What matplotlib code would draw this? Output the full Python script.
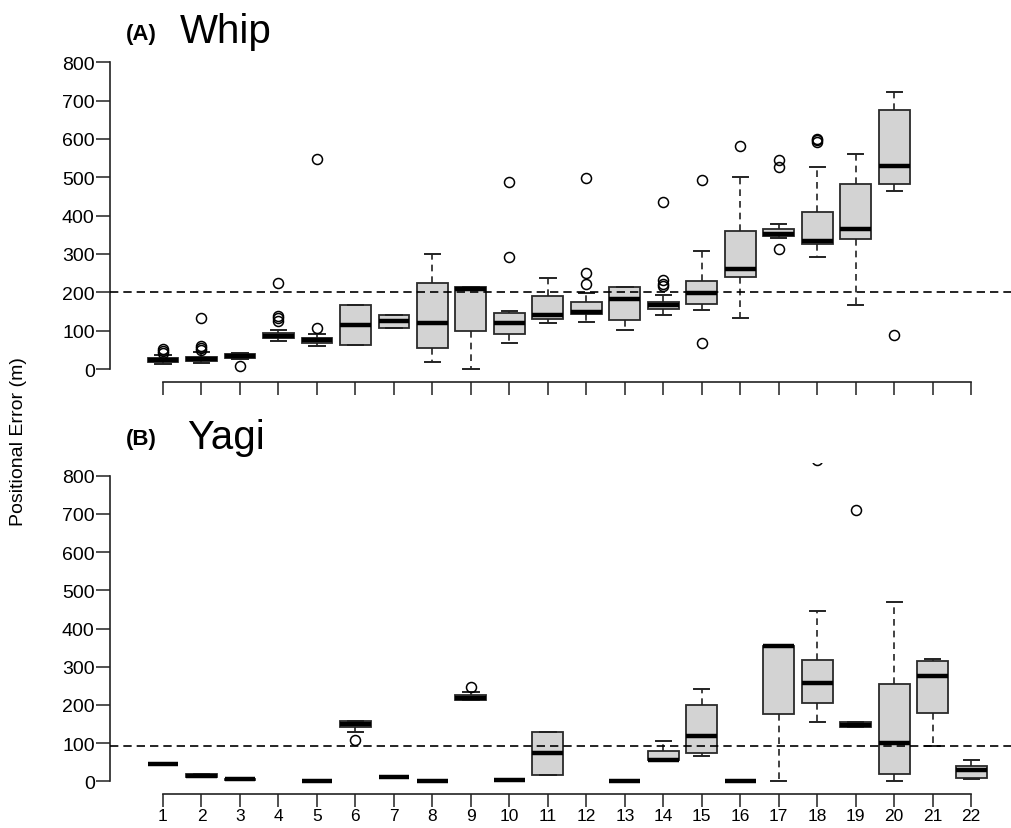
import matplotlib
matplotlib.use("Agg")
import matplotlib.pyplot as plt

plt.rcParams['font.family'] = ['Liberation Sans', 'DejaVu Sans']

# ---------------- Data: (A) Whip ----------------
whip_pos    = [1, 2, 3, 4, 5, 6, 7, 8, 9, 10, 11, 12, 13, 14, 15, 16, 17, 18, 19, 20]
whip_whislo = [12, 16, 27, 72, 60, 62, 108, 19, 0, 68, 119, 123, 102, 140, 153, 134, 342, 293, 166, 463]
whip_q1     = [19, 20, 28, 80, 68, 62, 108, 56, 100, 91, 130, 143, 128, 156, 169, 240, 346, 327, 339, 482]
whip_med    = [24, 26, 34, 87, 75, 116, 124, 121, 209, 119, 140, 149, 182, 166, 197, 262, 351, 333, 366, 530]
whip_q3     = [29, 31, 40, 95, 81, 167, 140, 224, 215, 145, 190, 175, 215, 176, 229, 361, 365, 409, 483, 675]
whip_whishi = [36, 45, 43, 103, 92, 167, 140, 299, 215, 152, 238, 197, 215, 192, 309, 502, 379, 528, 561, 723]
whip_fliers = [[42, 48, 53], [50, 55, 60, 133], [8], [125, 132, 138, 225], [107, 548],
               [], [], [], [], [293, 487], [], [221, 251, 498], [], [216, 222, 232, 435],
               [68, 492], [582], [313, 526, 544], [592, 597, 600], [], [88]]
whip_ref = 200

# ---------------- Data: (B) Yagi ----------------
yagi_pos    = [1, 2, 3, 5, 6, 7, 8, 9, 10, 11, 13, 14, 15, 16, 17, 18, 19, 20, 21, 22]
yagi_whislo = [46, 12, 4, 1, 128, 10, 1, 213, 3, 17, 1, 55, 65, 1, 0, 154, 141, 0, 93, 6]
yagi_q1     = [46, 12, 4, 1, 141, 10, 1, 213, 3, 17, 1, 55, 73, 1, 176, 206, 141, 18, 178, 8]
yagi_med    = [46, 15, 5, 1, 150, 10, 2, 217, 3, 73, 1, 56, 119, 1, 353, 257, 147, 101, 276, 30]
yagi_q3     = [46, 18, 6, 1, 158, 11, 2, 226, 3, 128, 1, 80, 199, 1, 355, 318, 154, 256, 314, 39]
yagi_whishi = [46, 18, 6, 1, 158, 11, 2, 233, 3, 128, 1, 106, 241, 1, 355, 447, 154, 469, 320, 55]
yagi_fliers = [[], [], [], [], [108], [], [], [246], [], [], [], [], [], [], [],
               [840], [709], [], [], []]
yagi_ref = 92

x_labels = [str(i) for i in range(1, 23)]
y_ticks = list(range(0, 801, 100))

W, H = 1012, 829
fig = plt.figure(figsize=(W / 100, H / 100), dpi=100)
ax1 = fig.add_axes([110 / W, 1 - 382.7 / H, 1 - 110 / W, 332.1 / H])
ax2 = fig.add_axes([110 / W, 1 - 794.9 / H, 1 - 110 / W, 330.8 / H])


def make_stats(pos, lo, q1, med, q3, hi, fl):
    return [dict(whislo=a, q1=b, med=c, q3=d, whishi=e, fliers=f)
            for a, b, c, d, e, f in zip(lo, q1, med, q3, hi, fl)]


def draw(ax, stats, pos, ref, show_labels):
    ax.bxp(stats, positions=pos, widths=0.8, patch_artist=True, showfliers=True,
           boxprops=dict(facecolor='#d3d3d3', edgecolor='#2a2a2a', linewidth=1.3),
           medianprops=dict(color='black', linewidth=3.2, solid_capstyle='butt'),
           whiskerprops=dict(color='#222222', linewidth=1.2, linestyle=(0, (4, 3))),
           capprops=dict(color='#222222', linewidth=1.4),
           flierprops=dict(marker='o', markerfacecolor='none', markeredgecolor='black',
                           markersize=7.2, markeredgewidth=1.1, linestyle='none'))
    ax.axhline(ref, color='black', linewidth=1.2, linestyle=(0, (5, 3)), zorder=5)
    ax.set_xlim(-0.377, 23.06)
    ax.set_ylim(-33, 833)
    for s in ['top', 'right']:
        ax.spines[s].set_visible(False)
    ax.spines['left'].set_bounds(0, 800)
    ax.spines['bottom'].set_bounds(1, 22)
    for s in ['left', 'bottom']:
        ax.spines[s].set_linewidth(1.2)
        ax.spines[s].set_color('#222222')
    ax.set_yticks(y_ticks)
    ax.set_yticklabels([str(v) for v in y_ticks])
    ax.set_xticks(range(1, 23))
    if show_labels:
        ax.set_xticklabels(x_labels)
    else:
        ax.set_xticklabels([])
    ax.tick_params(axis='y', direction='out', length=10, width=1.1, pad=1,
                   labelsize=14, colors='#222222', labelcolor='black')
    ax.tick_params(axis='x', direction='out', length=9, width=1.1, pad=1.5,
                   labelsize=12.5, colors='#222222', labelcolor='black')
    ax.set_facecolor('none')


draw(ax1, make_stats(whip_pos, whip_whislo, whip_q1, whip_med, whip_q3, whip_whishi, whip_fliers),
     whip_pos, whip_ref, False)
draw(ax2, make_stats(yagi_pos, yagi_whislo, yagi_q1, yagi_med, yagi_q3, yagi_whishi, yagi_fliers),
     yagi_pos, yagi_ref, True)


def ftext(px, py, s, **kw):
    fig.text(px / W, 1 - py / H, s, **kw)


ftext(126, 40, '(A)', fontsize=16, fontweight='bold', va='baseline', ha='left')
ftext(180, 43, 'Whip', fontsize=29, va='baseline', ha='left')
ftext(126, 445, '(B)', fontsize=16, fontweight='bold', va='baseline', ha='left')
ftext(187, 449, 'Yagi', fontsize=29, va='baseline', ha='left')
ftext(19, 442, 'Positional Error (m)', fontsize=14, rotation=90, va='center', ha='center')

fig.savefig('out.png', dpi=100, facecolor='white')
